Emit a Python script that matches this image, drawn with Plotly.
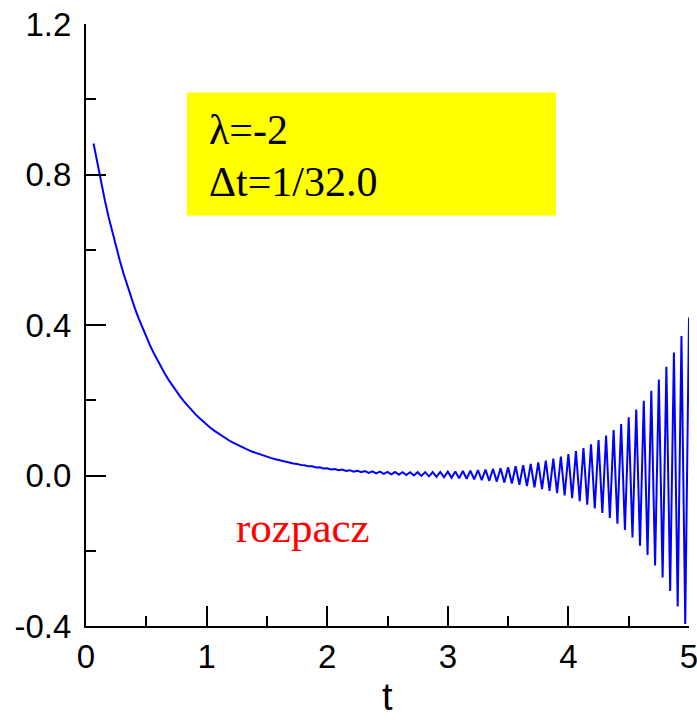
import plotly.graph_objects as go

# Time step and sample index range of the integration
dt = 1 / 32.0
steps = list(range(2, 161))
t = [n * dt for n in steps]

# Computed solution y(t) for lambda = -2 (one value per time step)
y = [
    0.8825, 0.8290, 0.7788, 0.7316, 0.6873, 0.6456, 0.6065, 0.5698, 0.5353, 0.5028,
    0.4724, 0.4437, 0.4169, 0.3916, 0.3679, 0.3456, 0.3247, 0.3050, 0.2865, 0.2691,
    0.2528, 0.2375, 0.2231, 0.2096, 0.1969, 0.1850, 0.1738, 0.1632, 0.1534, 0.1441,
    0.1353, 0.1271, 0.1194, 0.1122, 0.1054, 0.0990, 0.0930, 0.0874, 0.0821, 0.0771,
    0.0724, 0.0681, 0.0639, 0.0601, 0.0564, 0.0530, 0.0498, 0.0468, 0.0439, 0.0413,
    0.0388, 0.0364, 0.0342, 0.0321,
    0.0308, 0.0277, 0.0274, 0.0243, 0.0243, 0.0212, 0.0217, 0.0185, 0.0194, 0.0161,
    0.0173, 0.0139, 0.0156, 0.0120, 0.0141, 0.0102, 0.0128, 0.0086, 0.0118, 0.0071,
    0.0109, 0.0058, 0.0101, 0.0045, 0.0096, 0.0033, 0.0092, 0.0022, 0.0089, 0.0011,
    0.0088, 0.0000, 0.0088, -0.0011, 0.0089, -0.0022, 0.0092, -0.0034, 0.0096, -0.0046,
    0.0102, -0.0059, 0.0109, -0.0072, 0.0118, -0.0087, 0.0129, -0.0103, 0.0142, -0.0121,
    0.0157, -0.0141, 0.0175, -0.0162, 0.0195, -0.0187, 0.0218, -0.0214, 0.0245, -0.0245,
    0.0276, -0.0279, 0.0311, -0.0318, 0.0350, -0.0362, 0.0396, -0.0411, 0.0447, -0.0467,
    0.0505, -0.0530, 0.0572, -0.0602, 0.0647, -0.0683, 0.0732, -0.0774, 0.0829, -0.0878,
    0.0939, -0.0996, 0.1064, -0.1129, 0.1205, -0.1280, 0.1365, -0.1450, 0.1546, -0.1644,
    0.1752, -0.1863, 0.1985, -0.2111, 0.2249, -0.2393, 0.2548, -0.2711, 0.2887, -0.3072,
    0.3271, -0.3482, 0.3707, -0.3945, 0.4200,
]

x_ticks = [0, 1, 2, 3, 4, 5]
y_ticks = [-0.4, 0.0, 0.4, 0.8, 1.2]
y_tick_text = ["-0.4", "0.0", "0.4", "0.8", "1.2"]

fig = go.Figure()
fig.add_trace(go.Scatter(
    x=t, y=y, mode="lines",
    line=dict(color="#0000ff", width=2),
    showlegend=False, hoverinfo="skip",
))

sans = "Liberation Sans, Arial, sans-serif"
axis_font = dict(family=sans, size=33, color="black")
common = dict(
    showline=True, linecolor="black", linewidth=2,
    ticks="inside", ticklen=20, tickwidth=2, tickcolor="black",
    showgrid=False, zeroline=False, tickfont=axis_font,
    ticklabeloverflow="allow", automargin=False,
)

fig.update_xaxes(
    range=[0, 5], tickvals=x_ticks, ticktext=[str(v) for v in x_ticks],
    minor=dict(dtick=0.5, ticks="inside", ticklen=10, tickwidth=2, tickcolor="black", showgrid=False),
    **common,
)
fig.update_yaxes(
    range=[-0.4, 1.2], tickvals=y_ticks, ticktext=y_tick_text,
    minor=dict(dtick=0.2, ticks="inside", ticklen=10, tickwidth=2, tickcolor="black", showgrid=False),
    ticklabelstandoff=6,
    **common,
)

# x-axis label, placed below the tick labels
fig.add_annotation(x=0.5, y=-0.118, xref="paper", yref="paper", text="t", showarrow=False,
                   xanchor="center", yanchor="middle", font=dict(family=sans, size=38, color="black"))

# Parameter box
fig.add_shape(type="rect", xref="x", yref="y", x0=0.837, x1=3.897, y0=0.691, y1=1.018,
              fillcolor="#ffff00", line=dict(width=0), layer="below")
serif = "Liberation Serif, Times New Roman, serif"
fig.add_annotation(x=1.0, y=0.918, xref="x", yref="y", text="λ=-2", showarrow=False,
                   xanchor="left", yanchor="middle", font=dict(family=serif, size=42, color="black"))
fig.add_annotation(x=1.0, y=0.779, xref="x", yref="y", text="Δt=1/32.0", showarrow=False,
                   xanchor="left", yanchor="middle", font=dict(family=serif, size=42, color="black"))
fig.add_annotation(x=1.23, y=-0.138, xref="x", yref="y", text="rozpacz", showarrow=False,
                   xanchor="left", yanchor="middle", font=dict(family=serif, size=43, color="#ff0000"))

fig.update_layout(
    width=697, height=720,
    margin=dict(l=86, r=8, t=24, b=94),
    paper_bgcolor="white", plot_bgcolor="white",
)

fig.write_html("out.html")
